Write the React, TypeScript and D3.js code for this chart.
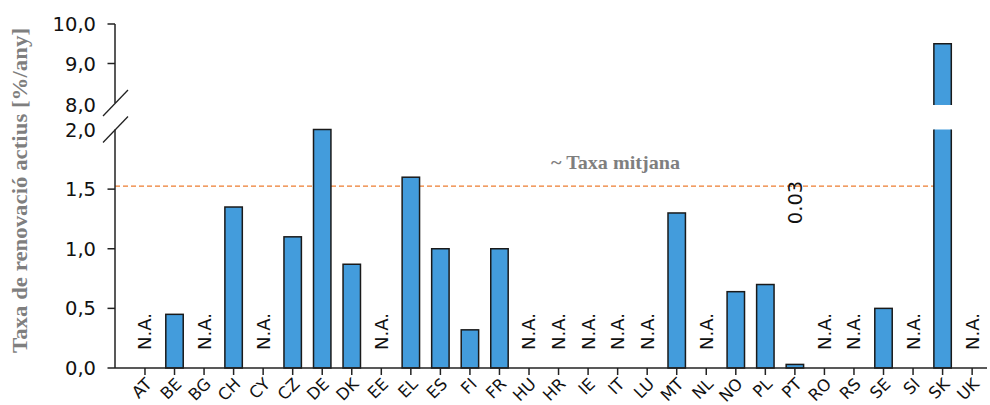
import React from "react";
import * as d3 from "d3";

const categories = ["AT","BE","BG","CH","CY","CZ","DE","DK","EE","EL","ES","FI","FR","HU","HR","IE","IT","LU","MT","NL","NO","PL","PT","RO","RS","SE","SI","SK","UK"];
// null = N.A.
const values: (number | null)[] = [null,0.45,null,1.35,null,1.1,2.0,0.87,null,1.6,1.0,0.32,1.0,null,null,null,null,null,1.3,null,0.64,0.7,0.03,null,null,0.5,null,9.5,null];
const lowerTicks = [0, 0.5, 1.0, 1.5, 2.0];
const upperTicks = [8.0, 9.0, 10.0];
const meanValue = 1.525;
const meanLabel = "~ Taxa mitjana";
const yTitle = "Taxa de renovació actius [%/any]";
const naLabel = "N.A.";
const specialLabel = { cat: "PT", text: "0.03" };

const W = 990, H = 405;
const axisX = 115;
const fmt = (v: number) => v.toFixed(1).replace(".", ",");

export default function App() {
  const x = d3.scaleBand<string>().domain(categories).range([130.2, 986.9]).paddingInner(0.41).paddingOuter(0.205);
  const yLow = d3.scaleLinear().domain([0, 2]).range([368, 129.5]);
  const yHigh = d3.scaleLinear().domain([8, 10]).range([103, 24]);
  const bw = x.bandwidth();
  const fill = "#439cdc";
  const stroke = "#1a1a1a";
  const sans = "'DejaVu Sans', Verdana, sans-serif";
  const serif = "'Liberation Serif', 'DejaVu Serif', serif";

  return (
    <svg width={W} height={H} style={{ position: "absolute", left: 0, top: 0, background: "#fff" }}>
      {/* mean line */}
      <line x1={axisX} x2={948} y1={yLow(meanValue)} y2={yLow(meanValue)} stroke="#ed7d31" strokeWidth={1.4} strokeDasharray="5,3" />
      <text x={551} y={168.5} fontFamily={serif} fontWeight="bold" fontSize={19.5} fill="#7f7f7f" textLength={129} lengthAdjust="spacingAndGlyphs">{meanLabel}</text>

      {/* bars */}
      {categories.map((c, i) => {
        const v = values[i];
        const x0 = x(c)!;
        const cx = x0 + bw / 2;
        if (v === null) {
          return (
            <text key={c} transform={`translate(${cx},331.5) rotate(-90)`} dy="0.36em" textAnchor="middle" fontFamily={sans} fontSize={18} fill="#111">{naLabel}</text>
          );
        }
        if (v > 2) {
          const yt = yHigh(v);
          const yb = yHigh(7.95);
          const lt = yLow(2.0);
          const lb = yLow(0);
          return (
            <g key={c}>
              <rect x={x0} y={yt} width={bw} height={yb - yt} fill={fill} />
              <path d={`M${x0},${yb}V${yt}H${x0 + bw}V${yb}`} fill="none" stroke={stroke} strokeWidth={1.5} />
              <rect x={x0} y={lt} width={bw} height={lb - lt} fill={fill} />
              <path d={`M${x0},${lt}V${lb}H${x0 + bw}V${lt}`} fill="none" stroke={stroke} strokeWidth={1.5} />
            </g>
          );
        }
        const yt = yLow(v);
        return <rect key={c} x={x0} y={yt} width={bw} height={yLow(0) - yt} fill={fill} stroke={stroke} strokeWidth={1.5} />;
      })}

      {/* special label */}
      <text transform={`translate(${x(specialLabel.cat)! + bw / 2},202.5) rotate(-90)`} dy="0.36em" textAnchor="middle" fontFamily={sans} fontSize={19.5} fill="#111">{specialLabel.text}</text>

      {/* y axis */}
      <line x1={axisX} x2={axisX} y1={yHigh(10)} y2={yHigh(8)} stroke="#222" strokeWidth={1.5} />
      <line x1={axisX} x2={axisX} y1={yLow(2)} y2={yLow(0)} stroke="#222" strokeWidth={1.5} />
      <line x1={103} y1={yHigh(8) + 13} x2={128} y2={yHigh(8) - 13} stroke="#222" strokeWidth={1.3} />
      <line x1={103} y1={yLow(2) + 13} x2={128} y2={yLow(2) - 13} stroke="#222" strokeWidth={1.3} />
      {upperTicks.map((t) => (
        <g key={"u" + t}>
          {t !== 8 && <line x1={107.5} x2={axisX} y1={yHigh(t)} y2={yHigh(t)} stroke="#222" strokeWidth={1.5} />}
          <text x={96} y={yHigh(t) + (t === 8 ? 2 : 0)} dy="0.36em" textAnchor="end" fontFamily={sans} fontSize={19.5} fill="#111">{fmt(t)}</text>
        </g>
      ))}
      {lowerTicks.map((t) => (
        <g key={"l" + t}>
          {t !== 2 && <line x1={107.5} x2={axisX} y1={yLow(t)} y2={yLow(t)} stroke="#222" strokeWidth={1.5} />}
          <text x={96} y={yLow(t)} dy="0.36em" textAnchor="end" fontFamily={sans} fontSize={19.5} fill="#111">{fmt(t)}</text>
        </g>
      ))}

      {/* x axis */}
      <line x1={axisX} x2={987} y1={yLow(0)} y2={yLow(0)} stroke="#222" strokeWidth={1.5} />
      {categories.map((c) => {
        const cx = x(c)! + bw / 2;
        return (
          <g key={"x" + c}>
            <line x1={cx} x2={cx} y1={yLow(0)} y2={yLow(0) + 7} stroke="#222" strokeWidth={1.5} />
            <text transform={`translate(${cx + 8},${yLow(0) + 17}) rotate(-45)`} textAnchor="end" fontFamily={sans} fontSize={16.5} fill="#111">{c}</text>
          </g>
        );
      })}

      {/* y title */}
      <text transform={`translate(27,190.5) rotate(-90)`} textAnchor="middle" fontFamily={serif} fontWeight="bold" fontSize={21} fill="#7f7f7f" textLength={325} lengthAdjust="spacingAndGlyphs">{yTitle}</text>
    </svg>
  );
}
